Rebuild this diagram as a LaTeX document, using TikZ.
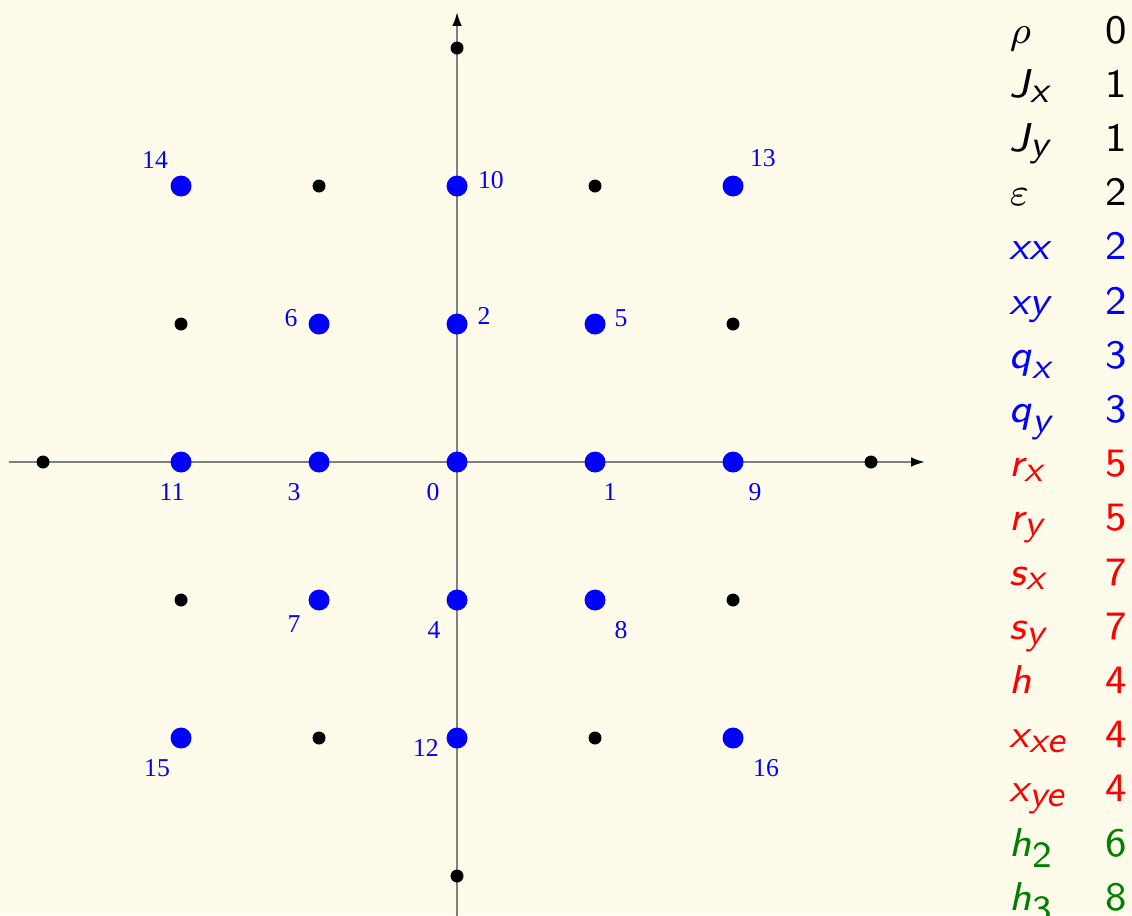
\documentclass[tikz,border=0pt]{standalone}
\usepackage{amsmath}
\usepackage{fontspec}
\newfontfamily\labfont{Liberation Serif}
\usetikzlibrary{arrows.meta}

\definecolor{cream}{RGB}{255,251,235}
\definecolor{axgray}{RGB}{128,128,128}
\definecolor{dkgreen}{RGB}{0,128,0}
\newcommand{\sv}[1]{\textsf{\itshape #1}}
\newcommand{\svsub}[1]{\text{\fontsize{7.6}{9}\selectfont\sffamily\itshape #1}}
\newcommand{\svnum}[1]{\text{\fontsize{7.6}{9}\selectfont\sffamily #1}}

\begin{document}
\begin{tikzpicture}[
  axis/.style={draw=axgray, line width=0.4pt, -{Latex[black, length=1mm, width=0.7mm]}},
  kdot/.style={circle, fill=black, minimum size=0.094cm, inner sep=0pt},
  bdot/.style={circle, fill=blue, minimum size=0.152cm, inner sep=0pt},
  lab/.style={text=blue, font=\labfont\fontsize{5.3}{6}\selectfont, inner sep=0pt},
  sym/.style={anchor=base west, font=\fontsize{8.3}{10}\selectfont, inner sep=0pt},
  num/.style={anchor=base west, font=\sffamily\fontsize{8.3}{10}\selectfont, inner sep=0pt}]

% background and frame
\fill[cream] (-3.312,-3.283) rectangle (4.891,3.348);
\useasboundingbox (-3.312,-3.283) rectangle (4.891,3.348);

% =====================================================================
% axes
% =====================================================================
\coordinate (xl) at (-3.25,0);
\coordinate (xr) at (3.39,0);
\coordinate (yb) at (0,-3.40);
\coordinate (yt) at (0,3.26);
\draw[axis] (xl) -- (xr);
\draw[axis] (yb) -- (yt);

% =====================================================================
% black points
% =====================================================================
\node[kdot] (kw)  at (-3,0) {};
\node[kdot] (ke)  at (3,0) {};
\node[kdot] (kn)  at (0,3) {};
\node[kdot] (ks)  at (0,-3) {};
\node[kdot] (k1)  at (-1,2) {};
\node[kdot] (k2)  at (1,2) {};
\node[kdot] (k3)  at (-2,1) {};
\node[kdot] (k4)  at (2,1) {};
\node[kdot] (k5)  at (-2,-1) {};
\node[kdot] (k6)  at (2,-1) {};
\node[kdot] (k7)  at (-1,-2) {};
\node[kdot] (k8)  at (1,-2) {};

% =====================================================================
% blue points, numbered
% =====================================================================
\node[bdot] (p0)  at (0,0) {};
\node[bdot] (p1)  at (1,0) {};
\node[bdot] (p2)  at (0,1) {};
\node[bdot] (p3)  at (-1,0) {};
\node[bdot] (p4)  at (0,-1) {};
\node[bdot] (p5)  at (1,1) {};
\node[bdot] (p6)  at (-1,1) {};
\node[bdot] (p7)  at (-1,-1) {};
\node[bdot] (p8)  at (1,-1) {};
\node[bdot] (p9)  at (2,0) {};
\node[bdot] (p10) at (0,2) {};
\node[bdot] (p11) at (-2,0) {};
\node[bdot] (p12) at (0,-2) {};
\node[bdot] (p13) at (2,2) {};
\node[bdot] (p14) at (-2,2) {};
\node[bdot] (p15) at (-2,-2) {};
\node[bdot] (p16) at (2,-2) {};

\node[lab] (l0)  at (-0.174,-0.217) {0};
\node[lab] (l1)  at (1.109,-0.217) {1};
\node[lab] (l2)  at (0.196,1.058) {2};
\node[lab] (l3)  at (-1.181,-0.217) {3};
\node[lab] (l4)  at (-0.167,-1.217) {4};
\node[lab] (l5)  at (1.188,1.043) {5};
\node[lab] (l6)  at (-1.203,1.043) {6};
\node[lab] (l7)  at (-1.181,-1.174) {7};
\node[lab] (l8)  at (1.188,-1.217) {8};
\node[lab] (l9)  at (2.159,-0.217) {9};
\node[lab] (l10) at (0.246,2.043) {10};
\node[lab] (l11) at (-2.065,-0.217) {11};
\node[lab] (l12) at (-0.225,-2.072) {12};
\node[lab] (l13) at (2.217,2.203) {13};
\node[lab] (l14) at (-2.188,2.188) {14};
\node[lab] (l15) at (-2.174,-2.217) {15};
\node[lab] (l16) at (2.239,-2.217) {16};

% =====================================================================
% table of moments and their order
% =====================================================================
\node[sym] (s1)  at (4.0,3.036) {$\rho$};
\node[sym] (s2)  at (4.0,2.643) {$\sv{J}_{\svsub{x}}$};
\node[sym] (s3)  at (4.0,2.250) {$\sv{J}_{\svsub{y}}$};
\node[sym] (s4)  at (4.0,1.858) {$\varepsilon$};
\node[sym, text=blue] (s5)  at (4.0,1.465) {\sv{xx}};
\node[sym, text=blue] (s6)  at (4.0,1.072) {\sv{xy}};
\node[sym, text=blue] (s7)  at (4.0,0.679) {$\sv{q}_{\svsub{x}}$};
\node[sym, text=blue] (s8)  at (4.0,0.286) {$\sv{q}_{\svsub{y}}$};
\node[sym, text=red] (s9)  at (4.0,-0.106) {$\sv{r}_{\svsub{x}}$};
\node[sym, text=red] (s10) at (4.0,-0.499) {$\sv{r}_{\svsub{y}}$};
\node[sym, text=red] (s11) at (4.0,-0.892) {$\sv{s}_{\svsub{x}}$};
\node[sym, text=red] (s12) at (4.0,-1.285) {$\sv{s}_{\svsub{y}}$};
\node[sym, text=red] (s13) at (4.0,-1.678) {\sv{h}};
\node[sym, text=red] (s14) at (4.0,-2.070) {$\sv{x}_{\svsub{xe}}$};
\node[sym, text=red] (s15) at (4.0,-2.463) {$\sv{x}_{\svsub{ye}}$};
\node[sym, text=dkgreen] (s16) at (4.0,-2.856) {$\sv{h}_{\svnum{2}}$};
\node[sym, text=dkgreen] (s17) at (4.0,-3.249) {$\sv{h}_{\svnum{3}}$};

\node[num] (n1)  at (4.695,3.036) {0};
\node[num] (n2)  at (4.695,2.643) {1};
\node[num] (n3)  at (4.695,2.250) {1};
\node[num] (n4)  at (4.695,1.858) {2};
\node[num, text=blue] (n5)  at (4.695,1.465) {2};
\node[num, text=blue] (n6)  at (4.695,1.072) {2};
\node[num, text=blue] (n7)  at (4.695,0.679) {3};
\node[num, text=blue] (n8)  at (4.695,0.286) {3};
\node[num, text=red] (n9)  at (4.695,-0.106) {5};
\node[num, text=red] (n10) at (4.695,-0.499) {5};
\node[num, text=red] (n11) at (4.695,-0.892) {7};
\node[num, text=red] (n12) at (4.695,-1.285) {7};
\node[num, text=red] (n13) at (4.695,-1.678) {4};
\node[num, text=red] (n14) at (4.695,-2.070) {4};
\node[num, text=red] (n15) at (4.695,-2.463) {4};
\node[num, text=dkgreen] (n16) at (4.695,-2.856) {6};
\node[num, text=dkgreen] (n17) at (4.695,-3.249) {8};

\end{tikzpicture}
\end{document}
